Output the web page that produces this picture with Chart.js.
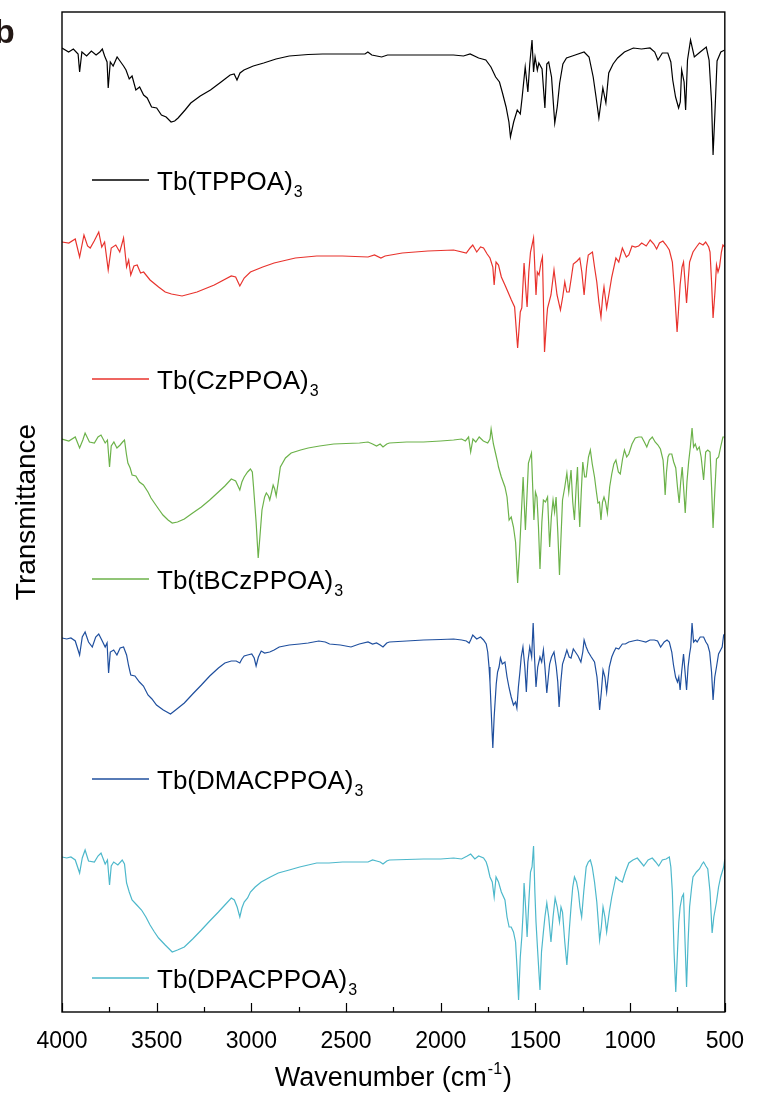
<!DOCTYPE html>
<html>
<head>
<meta charset="utf-8">
<script src="https://cdn.jsdelivr.net/npm/chart.js@4.4.1/dist/chart.umd.min.js"></script>
<style>
  html, body { margin: 0; padding: 0; background: #fff; }
</style>
</head>
<body>
<canvas id="ftir-chart" width="760" height="1093"></canvas>
<script>
'use strict';

// x axis (wavenumber, cm-1)
var WN_TICKS = [4000, 3500, 3000, 2500, 2000, 1500, 1000, 500];

var SAMPLES = ['TPPOA', 'CzPPOA', 'tBCzPPOA', 'DMACPPOA', 'DPACPPOA'];
var COLORS = ['#000000', '#e8332d', '#6cb24a', '#1f4f9e', '#4db8cb'];

// [wavenumber, transmittance (a.u., stacked)]
var tppoa = [[4000,96.4],[3965,96.0],[3940,96.3],[3915,95.8],[3907,94.0],[3895,96.0],[3870,95.6],[3845,96.1],[3820,95.7],[3800,96.0],[3787,96.3],[3775,95.6],[3762,95.0],[3756,92.4],[3745,95.0],[3730,94.6],[3709,95.5],[3690,95.0],[3675,94.6],[3662,94.2],[3645,93.3],[3630,93.6],[3610,92.2],[3590,92.5],[3569,91.7],[3550,91.4],[3527,90.5],[3500,90.4],[3475,89.7],[3450,89.5],[3424,89.0],[3405,89.1],[3387,89.4],[3350,90.2],[3320,90.9],[3270,91.6],[3216,92.2],[3160,93.0],[3112,93.7],[3091,93.8],[3076,93.2],[3060,93.9],[3039,94.2],[2990,94.6],[2935,94.9],[2870,95.3],[2800,95.6],[2700,95.75],[2624,95.8],[2500,95.8],[2400,95.8],[2385,96.0],[2364,95.7],[2312,95.5],[2281,95.7],[2200,95.7],[2100,95.7],[2000,95.7],[1933,95.7],[1880,95.6],[1845,95.8],[1800,95.4],[1762,95.2],[1735,94.5],[1710,93.5],[1690,93.0],[1674,91.9],[1655,90.5],[1640,89.0],[1632,87.5],[1615,89.0],[1596,90.2],[1580,89.8],[1570,91.5],[1554,94.5],[1540,92.0],[1530,94.8],[1518,97.2],[1510,94.0],[1502,95.5],[1490,94.2],[1482,94.9],[1465,94.3],[1450,90.4],[1440,94.8],[1430,95.0],[1415,93.5],[1398,88.9],[1385,90.5],[1372,92.9],[1355,94.8],[1336,95.4],[1290,95.7],[1243,96.0],[1217,95.5],[1195,93.5],[1180,91.5],[1165,89.4],[1144,92.4],[1128,90.9],[1113,93.9],[1090,94.8],[1066,95.4],[1030,96.0],[983,96.4],[940,96.3],[895,96.4],[870,96.0],[853,95.2],[830,95.9],[801,95.9],[785,95.0],[775,93.2],[760,91.5],[744,90.4],[735,91.0],[728,94.2],[715,93.0],[707,90.2],[697,95.2],[681,97.2],[661,95.5],[630,96.0],[598,96.5],[583,95.2],[570,91.0],[562,85.7],[552,90.0],[541,95.1],[521,96.0],[500,96.2]];

var czppoa = [[4000,77.0],[3964,76.9],[3930,77.3],[3907,75.5],[3884,77.7],[3865,76.6],[3851,76.4],[3830,77.1],[3806,78.0],[3790,76.5],[3775,77.0],[3756,74.2],[3740,76.4],[3716,76.7],[3695,76.0],[3675,77.4],[3659,74.5],[3648,75.2],[3637,73.7],[3620,74.6],[3603,74.7],[3585,73.9],[3569,74.0],[3535,73.2],[3490,72.5],[3455,72.0],[3422,71.8],[3366,71.6],[3287,72.0],[3196,72.7],[3106,73.6],[3083,73.5],[3061,72.6],[3038,73.4],[3005,74.0],[2940,74.5],[2880,74.9],[2768,75.4],[2655,75.6],[2519,75.6],[2384,75.5],[2350,75.7],[2316,75.4],[2294,75.6],[2203,75.9],[2068,76.1],[1932,76.2],[1865,75.9],[1845,76.4],[1831,76.7],[1810,76.0],[1790,76.5],[1774,76.4],[1755,75.8],[1740,75.4],[1725,74.5],[1718,72.7],[1708,75.0],[1695,74.7],[1680,73.5],[1661,72.7],[1645,72.0],[1627,71.2],[1610,70.5],[1594,66.4],[1580,70.0],[1572,70.4],[1560,74.9],[1550,72.0],[1544,70.5],[1535,74.0],[1526,76.0],[1510,77.4],[1497,71.7],[1490,74.0],[1481,73.7],[1470,75.0],[1463,75.5],[1452,66.0],[1440,69.5],[1436,70.4],[1418,71.7],[1402,74.2],[1386,71.7],[1368,70.2],[1356,71.5],[1345,73.0],[1335,72.0],[1322,72.0],[1310,73.5],[1300,74.8],[1280,75.1],[1266,75.4],[1255,74.0],[1243,71.7],[1230,74.5],[1221,75.7],[1199,76.0],[1188,74.5],[1176,73.0],[1165,71.0],[1154,69.5],[1145,71.5],[1138,72.5],[1124,70.4],[1110,72.0],[1097,73.5],[1075,75.4],[1060,75.0],[1041,76.4],[1020,75.5],[1007,75.7],[990,76.6],[973,76.5],[955,76.6],[939,76.9],[915,76.6],[894,77.2],[875,76.8],[860,76.3],[845,76.9],[827,77.1],[810,76.7],[793,76.2],[777,75.0],[765,72.0],[752,68.0],[745,70.0],[736,72.7],[726,74.5],[718,75.0],[710,73.0],[702,70.9],[694,73.0],[686,75.0],[668,76.0],[650,76.5],[634,76.9],[615,76.7],[601,77.0],[585,76.5],[578,76.0],[570,73.0],[562,69.4],[552,72.0],[544,74.7],[536,74.0],[528,74.5],[518,76.0],[510,76.7],[500,76.5]];

var tbczppoa = [[4000,57.3],[3964,57.1],[3930,57.5],[3907,56.4],[3890,57.2],[3878,57.9],[3855,57.0],[3829,56.9],[3810,57.5],[3794,57.7],[3772,56.9],[3760,57.2],[3749,54.5],[3740,56.6],[3726,57.0],[3710,56.4],[3693,56.7],[3680,57.0],[3670,57.2],[3660,55.8],[3652,54.9],[3640,54.4],[3630,53.7],[3610,53.6],[3591,53.0],[3570,52.7],[3546,52.0],[3530,51.4],[3512,50.9],[3490,50.3],[3467,49.7],[3440,49.2],[3418,48.9],[3390,49.0],[3354,49.3],[3310,49.9],[3264,50.5],[3220,51.2],[3174,52.0],[3140,52.6],[3106,53.3],[3083,53.1],[3061,52.2],[3050,53.0],[3038,53.5],[3020,54.0],[3005,54.3],[2995,54.0],[2989,52.6],[2975,49.0],[2964,45.4],[2955,47.5],[2944,50.2],[2930,51.5],[2921,51.9],[2910,51.6],[2903,51.2],[2893,52.0],[2885,52.7],[2877,52.3],[2869,51.6],[2858,53.0],[2847,54.5],[2820,55.4],[2790,55.9],[2740,56.2],[2700,56.4],[2640,56.6],[2565,56.8],[2500,56.85],[2429,56.9],[2384,57.0],[2360,56.8],[2339,56.6],[2320,56.8],[2305,56.5],[2285,56.8],[2271,56.9],[2180,57.0],[2091,57.0],[2000,57.1],[1932,57.2],[1890,57.3],[1870,57.1],[1853,57.5],[1842,56.0],[1830,57.3],[1815,57.0],[1797,57.5],[1775,57.1],[1752,56.9],[1740,57.3],[1734,58.3],[1722,56.8],[1711,55.9],[1700,55.0],[1695,54.5],[1680,53.5],[1661,52.5],[1650,51.5],[1639,49.2],[1628,49.5],[1616,48.5],[1605,47.0],[1594,42.9],[1584,46.0],[1576,49.2],[1565,53.5],[1553,48.2],[1545,51.5],[1537,54.9],[1521,55.9],[1508,49.2],[1500,52.0],[1492,51.5],[1484,48.5],[1476,44.3],[1466,49.0],[1458,51.2],[1447,51.0],[1436,51.5],[1425,46.5],[1416,49.5],[1407,51.2],[1399,50.0],[1391,51.5],[1382,48.0],[1373,43.7],[1365,47.5],[1357,51.2],[1345,52.5],[1334,53.9],[1324,52.0],[1312,54.2],[1303,51.0],[1294,49.2],[1285,52.5],[1278,54.5],[1272,51.0],[1266,48.5],[1258,52.0],[1250,55.0],[1240,53.5],[1232,53.5],[1220,55.5],[1210,56.2],[1200,54.8],[1188,53.5],[1178,52.0],[1170,50.9],[1162,51.0],[1154,49.2],[1146,51.0],[1138,51.5],[1130,51.0],[1120,49.9],[1108,52.5],[1097,53.8],[1086,54.8],[1075,55.2],[1062,54.0],[1052,53.8],[1040,55.3],[1030,56.2],[1018,55.5],[1007,55.8],[990,56.8],[973,57.4],[955,57.5],[939,57.5],[925,57.0],[912,56.5],[898,57.2],[883,57.5],[868,57.0],[853,56.7],[840,56.3],[826,55.2],[820,53.5],[815,51.7],[808,54.0],[800,55.5],[793,55.8],[780,55.8],[770,55.0],[759,54.4],[750,52.5],[741,50.9],[733,53.0],[725,54.5],[716,52.0],[709,49.9],[700,53.0],[691,55.0],[682,56.5],[673,58.4],[665,56.5],[656,56.8],[646,56.2],[635,56.5],[625,55.5],[612,53.2],[601,56.0],[590,56.2],[578,56.0],[570,52.5],[562,48.4],[553,52.0],[544,55.3],[533,55.5],[522,56.5],[510,57.5],[500,57.5]];

var dmacppoa = [[4000,37.4],[3975,37.3],[3953,37.4],[3930,37.1],[3907,35.7],[3893,37.5],[3878,38.0],[3860,37.0],[3840,36.5],[3822,37.5],[3806,37.8],[3790,37.2],[3772,36.5],[3762,36.9],[3754,33.9],[3745,36.0],[3727,36.2],[3710,35.7],[3693,36.4],[3675,36.5],[3659,35.7],[3648,34.6],[3637,33.7],[3615,33.6],[3591,33.0],[3570,32.6],[3546,31.7],[3525,31.3],[3501,30.7],[3465,30.2],[3427,29.8],[3400,30.2],[3354,30.9],[3310,31.8],[3264,32.7],[3220,33.6],[3174,34.4],[3140,34.9],[3106,35.1],[3080,35.1],[3061,34.9],[3050,35.3],[3038,35.6],[3020,35.7],[2998,35.8],[2985,35.4],[2975,34.6],[2963,35.5],[2948,36.1],[2930,35.9],[2903,36.0],[2880,36.2],[2853,36.5],[2800,36.7],[2745,36.8],[2700,36.9],[2644,37.1],[2610,37.0],[2587,36.8],[2530,36.7],[2474,36.5],[2430,36.8],[2384,37.0],[2360,36.8],[2339,36.9],[2320,36.7],[2305,36.5],[2285,36.9],[2271,37.0],[2180,37.1],[2091,37.2],[2000,37.25],[1932,37.3],[1890,37.2],[1865,37.1],[1850,36.9],[1842,37.2],[1831,37.7],[1810,37.3],[1790,37.5],[1774,37.2],[1760,36.8],[1752,36.0],[1745,34.5],[1740,33.0],[1730,28.5],[1725,26.4],[1718,29.5],[1707,32.8],[1700,34.0],[1692,34.5],[1685,35.4],[1675,34.8],[1661,35.0],[1650,33.5],[1639,32.4],[1628,31.5],[1616,30.7],[1605,31.0],[1598,30.4],[1590,32.5],[1582,34.0],[1575,35.5],[1566,36.5],[1556,34.5],[1548,32.0],[1540,35.0],[1530,36.5],[1520,35.5],[1512,38.9],[1505,35.5],[1497,32.5],[1488,34.5],[1476,35.5],[1467,35.0],[1458,36.2],[1450,34.5],[1440,31.9],[1432,33.5],[1425,34.8],[1415,35.5],[1402,36.0],[1390,34.5],[1382,33.0],[1375,30.5],[1366,33.0],[1357,34.8],[1345,35.5],[1334,36.2],[1322,35.5],[1312,35.4],[1300,36.3],[1289,36.0],[1275,35.6],[1260,35.0],[1250,36.0],[1243,37.2],[1232,36.5],[1221,36.0],[1205,35.5],[1188,35.0],[1175,33.5],[1168,32.0],[1161,30.2],[1152,32.0],[1143,34.2],[1133,33.5],[1124,32.0],[1110,34.5],[1097,35.5],[1086,36.0],[1075,36.4],[1060,36.3],[1041,36.8],[1025,36.8],[1007,37.0],[985,37.1],[962,37.2],[940,37.1],[917,37.0],[895,37.2],[872,37.2],[855,37.1],[839,36.5],[820,37.0],[805,37.2],[793,37.0],[780,36.0],[771,34.7],[760,33.5],[750,33.0],[743,33.5],[736,32.2],[728,34.0],[718,35.8],[710,34.0],[702,32.2],[694,34.5],[686,35.8],[680,36.5],[673,38.9],[665,37.0],[655,37.2],[646,37.0],[630,37.5],[612,37.5],[600,37.0],[590,36.7],[580,36.0],[570,34.0],[562,31.2],[553,33.5],[544,34.5],[533,35.8],[522,36.2],[514,36.5],[506,37.7],[500,37.8]];

var dpacppoa = [[4000,15.5],[3975,15.4],[3953,15.5],[3930,15.2],[3907,13.9],[3893,15.4],[3878,16.2],[3860,15.1],[3829,15.0],[3810,15.6],[3794,15.9],[3772,14.8],[3760,15.2],[3749,12.7],[3740,14.6],[3727,15.0],[3705,14.7],[3682,15.2],[3670,14.8],[3659,12.9],[3645,12.0],[3630,11.2],[3605,10.7],[3580,10.2],[3557,9.5],[3535,8.7],[3512,8.0],[3490,7.4],[3455,6.7],[3418,6.0],[3390,6.2],[3354,6.5],[3310,7.3],[3264,8.2],[3220,9.1],[3174,10.0],[3140,10.7],[3106,11.4],[3090,11.2],[3075,10.5],[3061,9.5],[3050,10.4],[3038,11.0],[3020,11.4],[3005,12.0],[2980,12.5],[2948,13.0],[2900,13.5],[2858,13.9],[2800,14.2],[2745,14.5],[2700,14.7],[2655,14.9],[2590,14.9],[2519,15.0],[2450,15.0],[2384,15.0],[2360,15.2],[2339,15.1],[2320,15.0],[2305,14.8],[2285,15.1],[2271,15.2],[2180,15.25],[2091,15.3],[2000,15.3],[1932,15.4],[1890,15.3],[1860,15.6],[1842,15.8],[1820,15.3],[1800,15.6],[1774,15.4],[1760,15.0],[1752,14.5],[1740,13.5],[1728,13.0],[1718,11.5],[1708,13.5],[1695,13.0],[1680,12.0],[1661,11.2],[1650,9.5],[1639,8.5],[1628,8.5],[1616,8.0],[1605,7.0],[1596,4.0],[1589,1.2],[1580,5.5],[1572,7.5],[1565,10.0],[1560,12.9],[1552,10.5],[1544,7.5],[1535,11.0],[1526,14.0],[1518,14.5],[1510,16.6],[1503,12.0],[1497,9.0],[1488,6.0],[1476,2.2],[1468,6.0],[1458,8.0],[1450,9.5],[1440,10.9],[1430,9.5],[1418,7.0],[1407,9.5],[1396,11.4],[1385,10.5],[1373,9.0],[1365,10.5],[1357,10.0],[1345,7.0],[1334,4.7],[1322,8.0],[1312,10.5],[1303,12.5],[1294,13.5],[1283,13.0],[1273,12.0],[1265,10.5],[1256,9.5],[1245,12.0],[1232,14.5],[1221,15.0],[1210,15.2],[1200,14.5],[1188,13.0],[1176,11.0],[1168,9.0],[1161,7.2],[1152,8.5],[1143,10.5],[1133,9.5],[1124,8.0],[1110,10.0],[1097,11.5],[1086,12.5],[1075,13.5],[1060,13.2],[1041,13.0],[1025,14.0],[1007,14.9],[985,15.2],[962,15.4],[945,15.0],[928,14.6],[905,15.2],[883,15.4],[865,15.0],[849,14.6],[830,15.2],[810,15.3],[793,15.5],[785,14.5],[777,12.0],[768,6.0],[759,2.0],[750,6.0],[743,9.0],[736,10.5],[726,11.5],[718,11.8],[710,7.0],[702,2.5],[694,7.0],[686,10.5],[675,12.5],[668,13.5],[650,14.0],[634,14.3],[620,14.8],[612,15.0],[600,14.6],[590,14.3],[578,12.0],[567,7.9],[558,9.5],[544,11.0],[533,12.5],[522,13.5],[514,14.0],[506,14.5],[500,15.3]];

var SPECTRA = [tppoa, czppoa, tbczppoa, dmacppoa, dpacppoa];

var FONT = '"Liberation Sans", Arial, Helvetica, sans-serif';
// pixel rows of the in-plot labels (line y)
var LABEL_ROWS = [180, 379, 579, 779, 978];

function toPoints(arr) {
	return arr.map(function (p) { return { x: p[0], y: p[1] }; });
}

var datasets = SPECTRA.map(function (s, i) {
	return {
		label: 'Tb(' + SAMPLES[i] + ')3',
		data: toPoints(s),
		borderColor: COLORS[i],
		borderWidth: 1.2,
		pointRadius: 0,
		tension: 0,
		fill: false
	};
});

function drawSub(c, x, y, main, sub, size) {
	c.font = size + 'px ' + FONT;
	c.fillText(main, x, y);
	var w = c.measureText(main).width;
	c.font = Math.round(size * 0.62) + 'px ' + FONT;
	c.fillText(sub, x + w + 1, y + 7);
}

var decorations = {
	id: 'decorations',
	afterDraw: function (chart) {
		var c = chart.ctx, a = chart.chartArea, xs = chart.scales.x;
		c.save();
		c.strokeStyle = '#000';
		c.lineWidth = 1.4;
		c.strokeRect(a.left, a.top, a.right - a.left, a.bottom - a.top);

		// inward ticks, minor halfway between majors
		c.beginPath();
		WN_TICKS.forEach(function (w, k) {
			var px = Math.round(xs.getPixelForValue(w)) + 0.5;
			c.moveTo(px, a.bottom); c.lineTo(px, a.bottom - 9);
			if (k < WN_TICKS.length - 1) {
				var m = Math.round(xs.getPixelForValue((w + WN_TICKS[k + 1]) / 2)) + 0.5;
				c.moveTo(m, a.bottom); c.lineTo(m, a.bottom - 5);
			}
		});
		c.lineWidth = 1.2;
		c.stroke();

		// in-plot labels
		c.textBaseline = 'alphabetic';
		c.textAlign = 'left';
		SAMPLES.forEach(function (name, i) {
			var y = LABEL_ROWS[i];
			c.strokeStyle = COLORS[i];
			c.lineWidth = 1.4;
			c.beginPath();
			c.moveTo(92, y); c.lineTo(149, y);
			c.stroke();
			c.fillStyle = '#000';
			drawSub(c, 157, y + 10, 'Tb(' + name + ')', '3', 26);
		});

		// x title with superscript
		c.fillStyle = '#000';
		var t1 = 'Wavenumber (cm', t2 = '-1', t3 = ')';
		c.font = '27px ' + FONT;
		var w1 = c.measureText(t1).width, w3 = c.measureText(t3).width;
		c.font = '16px ' + FONT;
		var w2 = c.measureText(t2).width;
		var cx = (a.left + a.right) / 2;
		var x0 = cx - (w1 + w2 + w3 + 2) / 2;
		c.font = '27px ' + FONT;
		c.fillText(t1, x0, 1086);
		c.font = '16px ' + FONT;
		c.fillText(t2, x0 + w1 + 1, 1074);
		c.font = '27px ' + FONT;
		c.fillText(t3, x0 + w1 + w2 + 2, 1086);

		// y title
		c.save();
		c.translate(35, (a.top + a.bottom) / 2);
		c.rotate(-Math.PI / 2);
		c.textAlign = 'center';
		c.font = '28px ' + FONT;
		c.fillText('Transmittance', 0, 0);
		c.restore();

		// panel letter
		c.fillStyle = '#231815';
		c.font = 'bold 34px ' + FONT;
		c.fillText('b', -6, 43);
		c.restore();
	}
};

var ctx = document.getElementById('ftir-chart').getContext('2d');
new Chart(ctx, {
	type: 'line',
	data: { datasets: datasets },
	options: {
		responsive: false,
		devicePixelRatio: 1,
		animation: false,
		layout: { padding: { left: 62, right: 24, top: 12, bottom: 0 } },
		plugins: {
			legend: { display: false },
			tooltip: { enabled: false }
		},
		scales: {
			x: {
				type: 'linear',
				reverse: true,
				min: 500,
				max: 4000,
				grid: { display: false, drawTicks: false },
				border: { display: false },
				afterBuildTicks: function (scale) {
					scale.ticks = WN_TICKS.map(function (v) { return { value: v }; });
				},
				afterFit: function (scale) { scale.height = 81; },
				ticks: {
					color: '#000',
					padding: 16,
					maxRotation: 0,
					autoSkip: false,
					font: { family: FONT, size: 23 },
					callback: function (value) { return String(value); }
				}
			},
			y: {
				display: false,
				min: 0,
				max: 100
			}
		}
	},
	plugins: [decorations]
});
</script>
</body>
</html>
